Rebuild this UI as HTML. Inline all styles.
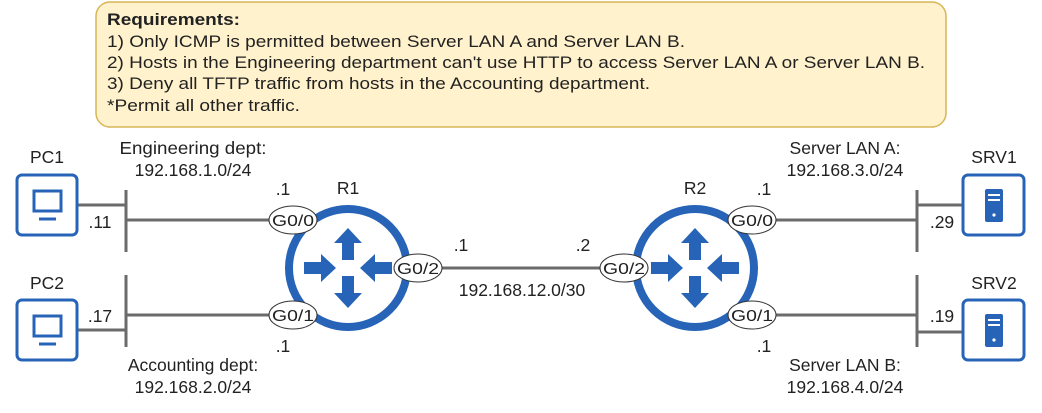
<!DOCTYPE html>
<html><head><meta charset="utf-8"><style>
html,body{margin:0;padding:0;background:#fff;}
svg{display:block;}
text{font-family:"Liberation Sans",Arial,sans-serif;fill:#222;}
</style></head><body>
<svg width="1042" height="413" viewBox="0 0 1042 413" xmlns="http://www.w3.org/2000/svg">
<defs>
<g id="arr"><path d="M0,-6 L17,-6 L17,-14 L32,0 L17,14 L17,6 L0,6 Z" fill="#2764b8"/></g>
<g id="router">
<circle r="59" fill="#fff" stroke="#2764b8" stroke-width="8"/>
<use href="#arr" transform="translate(-44,0)"/>
<use href="#arr" transform="translate(44,0) rotate(180)"/>
<use href="#arr" transform="translate(0,-8) rotate(-90)"/>
<use href="#arr" transform="translate(0,8) rotate(90)"/>
</g>
<g id="pc">
<rect x="0" y="0" width="60" height="60" rx="5" fill="#fff" stroke="#2764b8" stroke-width="3"/>
<rect x="17" y="16" width="27" height="20" fill="none" stroke="#2764b8" stroke-width="3"/>
<line x1="22" y1="44" x2="39" y2="44" stroke="#2764b8" stroke-width="3"/>
</g>
<g id="srv">
<rect x="0" y="0" width="61" height="60" rx="5" fill="#fff" stroke="#2764b8" stroke-width="3"/>
<rect x="22" y="14" width="18" height="33" rx="2" fill="#2764b8"/>
<line x1="25" y1="20" x2="37" y2="20" stroke="#fff" stroke-width="2"/>
<line x1="25" y1="25" x2="37" y2="25" stroke="#fff" stroke-width="2"/>
<circle cx="31" cy="40" r="1.6" fill="#fff"/>
</g>
</defs>

<rect x="96" y="2" width="850" height="125" rx="14" fill="#fff2cc" stroke="#d6b656" stroke-width="1.5"/>
<text x="107" y="25" font-size="17" font-weight="bold" textLength="133" lengthAdjust="spacingAndGlyphs">Requirements:</text>
<text x="107" y="47" font-size="17" textLength="578" lengthAdjust="spacingAndGlyphs">1) Only ICMP is permitted between Server LAN A and Server LAN B.</text>
<text x="107" y="68" font-size="17" textLength="818" lengthAdjust="spacingAndGlyphs">2) Hosts in the Engineering department can't use HTTP to access Server LAN A or Server LAN B.</text>
<text x="107" y="89" font-size="17" textLength="543" lengthAdjust="spacingAndGlyphs">3) Deny all TFTP traffic from hosts in the Accounting department.</text>
<text x="107" y="111" font-size="17" textLength="193" lengthAdjust="spacingAndGlyphs">*Permit all other traffic.</text>

<g stroke="#6b6b6b" stroke-width="3" fill="none">
<line x1="78" y1="205" x2="126" y2="205"/>
<line x1="126" y1="190" x2="126" y2="252"/>
<line x1="126" y1="220" x2="292" y2="220"/>
<line x1="78" y1="330" x2="126" y2="330"/>
<line x1="126" y1="275" x2="126" y2="347"/>
<line x1="126" y1="315" x2="292" y2="315"/>
<line x1="418" y1="268" x2="625" y2="268"/>
<line x1="752" y1="220" x2="917" y2="220"/>
<line x1="917" y1="190" x2="917" y2="252"/>
<line x1="917" y1="205" x2="963" y2="205"/>
<line x1="752" y1="315" x2="917" y2="315"/>
<line x1="917" y1="275" x2="917" y2="347"/>
<line x1="917" y1="332" x2="963" y2="332"/>
</g>

<use href="#pc" x="17" y="175"/>
<use href="#pc" x="17" y="300"/>
<use href="#srv" x="963" y="175"/>
<use href="#srv" x="963" y="300"/>
<use href="#router" x="348" y="268"/>
<use href="#router" x="695" y="268"/>

<g font-size="16" text-anchor="middle">
<ellipse cx="293" cy="220" rx="24" ry="14" fill="#fff" stroke="#333" stroke-width="1"/><text x="293" y="226" textLength="42" lengthAdjust="spacingAndGlyphs">G0/0</text>
<ellipse cx="293" cy="315" rx="24" ry="14" fill="#fff" stroke="#333" stroke-width="1"/><text x="293" y="321" textLength="42" lengthAdjust="spacingAndGlyphs">G0/1</text>
<ellipse cx="418" cy="268" rx="24" ry="14" fill="#fff" stroke="#333" stroke-width="1"/><text x="418" y="274" textLength="42" lengthAdjust="spacingAndGlyphs">G0/2</text>
<ellipse cx="624" cy="268" rx="24" ry="14" fill="#fff" stroke="#333" stroke-width="1"/><text x="624" y="274" textLength="42" lengthAdjust="spacingAndGlyphs">G0/2</text>
<ellipse cx="752" cy="220" rx="24" ry="14" fill="#fff" stroke="#333" stroke-width="1"/><text x="752" y="226" textLength="42" lengthAdjust="spacingAndGlyphs">G0/0</text>
<ellipse cx="752" cy="315" rx="24" ry="14" fill="#fff" stroke="#333" stroke-width="1"/><text x="752" y="321" textLength="42" lengthAdjust="spacingAndGlyphs">G0/1</text>
</g>

<g font-size="17.5" text-anchor="middle">
<text x="47" y="163">PC1</text>
<text x="47" y="289">PC2</text>
<text x="994" y="163">SRV1</text>
<text x="994" y="289">SRV2</text>
<text x="348" y="194">R1</text>
<text x="695" y="194">R2</text>
<text x="193" y="154" textLength="147" lengthAdjust="spacingAndGlyphs">Engineering dept:</text>
<text x="193" y="176">192.168.1.0/24</text>
<text x="193" y="371">Accounting dept:</text>
<text x="193" y="393">192.168.2.0/24</text>
<text x="845" y="154">Server LAN A:</text>
<text x="845" y="176">192.168.3.0/24</text>
<text x="845" y="371">Server LAN B:</text>
<text x="845" y="393">192.168.4.0/24</text>
<text x="522" y="296">192.168.12.0/30</text>
<text x="283" y="195">.1</text>
<text x="283" y="352">.1</text>
<text x="764" y="195">.1</text>
<text x="764" y="352">.1</text>
<text x="461" y="251">.1</text>
<text x="583" y="251">.2</text>
<text x="100" y="228">.11</text>
<text x="100" y="322">.17</text>
<text x="942" y="228">.29</text>
<text x="942" y="322">.19</text>
</g>
</svg>
</body></html>
